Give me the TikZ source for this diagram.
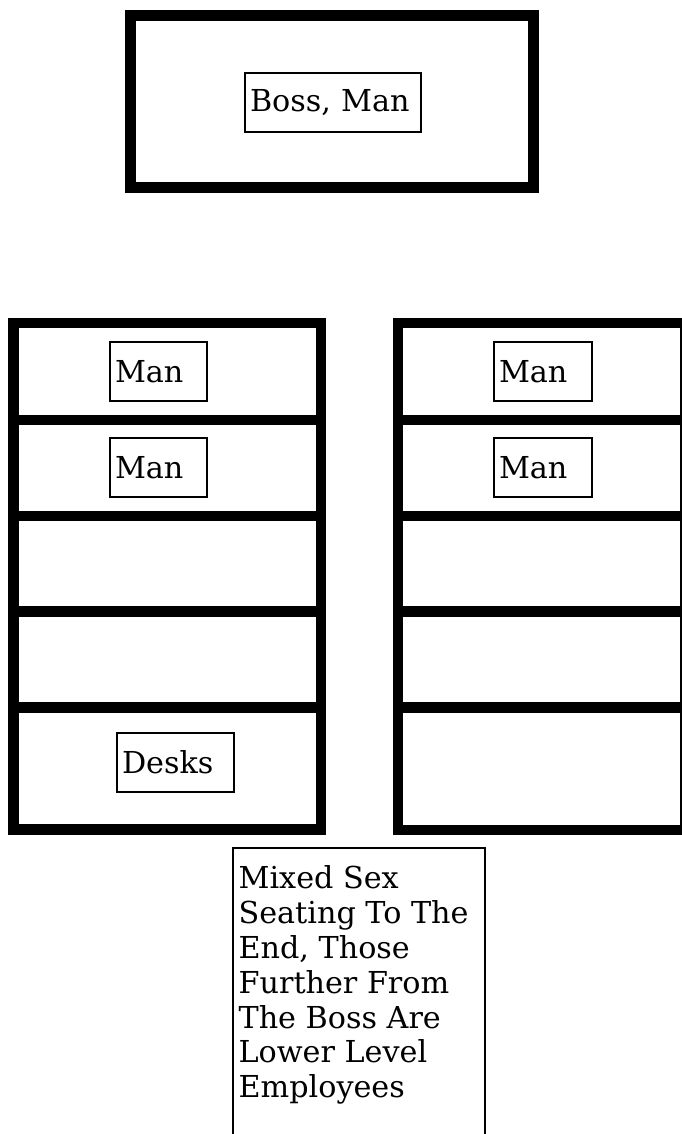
\documentclass[tikz,border=0pt]{standalone}
\usepackage{fontspec}
\setmainfont{DejaVu Serif}
\tikzset{
  wall/.style={line width=6.2pt},
  desk/.style={draw, line width=0.85pt, minimum height=1.18cm, inner xsep=0.1cm,
    inner ysep=0pt, align=left, font=\fontsize{17.2}{19.8}\selectfont},
  note/.style={align=left, inner xsep=3pt, inner ysep=10pt,
    font=\fontsize{17.2}{19.8}\selectfont},
}
\begin{document}
\begin{tikzpicture}[x=0.02cm, y=-0.02cm]
\useasboundingbox (0,0) rectangle (682,1134);
\clip (0,0) rectangle (682,1134);
\draw[wall] (130.5,15.5) rectangle (533.5,187.5);
\node[desk, text width=3.32cm] (boss) at (333,102.5) {Boss, Man};
\draw[wall] (13.5,323) rectangle (321,829.5);
\draw[wall] (398,323) rectangle (685,830);
\foreach \y in {420,516,611.5,707.5} {
  \draw[wall] (13.5,\y) -- (321,\y);
  \draw[wall] (398,\y) -- (685,\y);
}
\node[desk, text width=1.74cm] (manL1) at (158.5,371.5) {Man};
\node[desk, text width=1.74cm] (manL2) at (158.5,467.5) {Man};
\node[desk, text width=1.76cm] (manR1) at (543,371.5) {Man};
\node[desk, text width=1.76cm] (manR2) at (543,467.5) {Man};
\node[desk, text width=2.14cm] (desks) at (175.5,762.5) {Desks};
\node[note, anchor=north west] (note) at (233,848)
  {Mixed Sex\\Seating To The\\End, Those\\Further From\\The Boss Are\\Lower Level\\Employees};
\coordinate (noteBL) at (233,1140);
\coordinate (noteBR) at (485,1140);
\draw[line width=0.85pt] (noteBL) -- (note.north west) -- (note.north west -| noteBR) -- (noteBR);
\end{tikzpicture}
\end{document}
